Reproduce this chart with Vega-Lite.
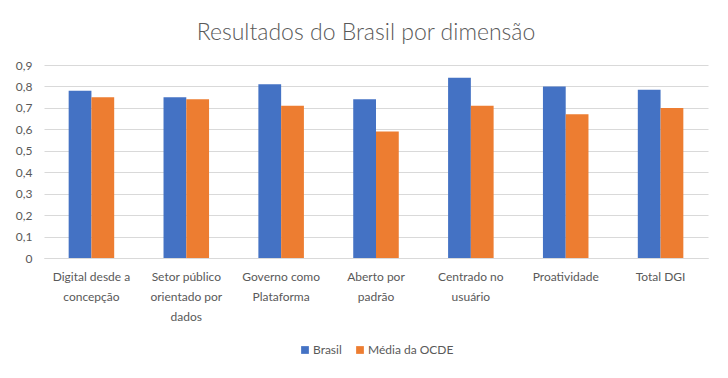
{
  "$schema": "https://vega.github.io/schema/vega-lite/v6.json",
  "width": 664,
  "height": 193,
  "padding": {"left": 15, "top": 22, "right": 20, "bottom": 10},
  "background": "white",
  "title": {
    "text": "Resultados do Brasil por dimensão",
    "font": "Lato",
    "fontSize": 23,
    "fontWeight": 300,
    "color": "#595959",
    "anchor": "middle",
    "offset": 14,
    "dx": -10
  },
  "data": {
    "values": [
      {"dim": "Digital desde a concepção", "serie": "Brasil", "valor": 0.78},
      {"dim": "Digital desde a concepção", "serie": "Média da OCDE", "valor": 0.75},
      {"dim": "Setor público orientado por dados", "serie": "Brasil", "valor": 0.75},
      {"dim": "Setor público orientado por dados", "serie": "Média da OCDE", "valor": 0.74},
      {"dim": "Governo como Plataforma", "serie": "Brasil", "valor": 0.81},
      {"dim": "Governo como Plataforma", "serie": "Média da OCDE", "valor": 0.71},
      {"dim": "Aberto por padrão", "serie": "Brasil", "valor": 0.74},
      {"dim": "Aberto por padrão", "serie": "Média da OCDE", "valor": 0.59},
      {"dim": "Centrado no usuário", "serie": "Brasil", "valor": 0.84},
      {"dim": "Centrado no usuário", "serie": "Média da OCDE", "valor": 0.71},
      {"dim": "Proatividade", "serie": "Brasil", "valor": 0.80},
      {"dim": "Proatividade", "serie": "Média da OCDE", "valor": 0.67},
      {"dim": "Total DGI", "serie": "Brasil", "valor": 0.785},
      {"dim": "Total DGI", "serie": "Média da OCDE", "valor": 0.70}
    ]
  },
  "mark": {"type": "bar"},
  "encoding": {
    "x": {
      "field": "dim",
      "type": "nominal",
      "sort": null,
      "scale": {"paddingInner": 0.52, "paddingOuter": 0.26},
      "axis": {
        "title": null,
        "labelAngle": 0,
        "ticks": false,
        "domainColor": "#d9d9d9",
        "labelPadding": 13,
        "labelExpr": "{'Digital desde a concepção': ['Digital desde a', 'concepção'], 'Setor público orientado por dados': ['Setor público', 'orientado por', 'dados'], 'Governo como Plataforma': ['Governo como', 'Plataforma'], 'Aberto por padrão': ['Aberto por', 'padrão'], 'Centrado no usuário': ['Centrado no', 'usuário'], 'Proatividade': ['Proatividade'], 'Total DGI': ['Total DGI']}[datum.label]",
        "labelLineHeight": 20
      }
    },
    "xOffset": {"field": "serie", "type": "nominal", "scale": {"paddingInner": 0, "paddingOuter": 0}},
    "y": {
      "field": "valor",
      "type": "quantitative",
      "scale": {"domain": [0, 0.9]},
      "axis": {
        "title": null,
        "values": [0, 0.1, 0.2, 0.3, 0.4, 0.5, 0.6, 0.7, 0.8, 0.9],
        "labelExpr": "datum.value == 0 ? '0' : replace(format(datum.value, '.1f'), '.', ',')",
        "domain": false,
        "ticks": false,
        "gridColor": "#d9d9d9",
        "labelPadding": 12
      }
    },
    "color": {
      "field": "serie",
      "type": "nominal",
      "scale": {"domain": ["Brasil", "Média da OCDE"], "range": ["#4472c4", "#ed7d31"]},
      "legend": {
        "title": null,
        "orient": "bottom",
        "direction": "horizontal",
        "symbolType": "square",
        "symbolSize": 60,
        "symbolStrokeWidth": 0,
        "labelOffset": 2,
        "columnPadding": 12,
        "offset": 22
      }
    }
  },
  "config": {
    "font": "Lato",
    "view": {"stroke": null},
    "axis": {"labelFont": "Lato", "labelFontSize": 12, "labelColor": "#595959", "gridWidth": 1},
    "legend": {"labelFont": "Lato", "labelFontSize": 12, "labelColor": "#595959", "layout": {"bottom": {"anchor": "middle"}}}
  }
}
